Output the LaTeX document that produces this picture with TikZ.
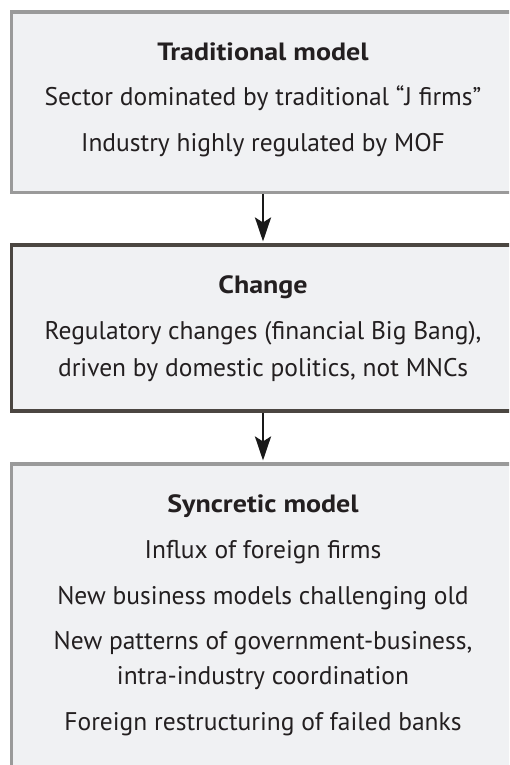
\documentclass[tikz,border=0pt]{standalone}
\usepackage{fontspec}
\setmainfont{PT Sans}
\newfontfamily\titlefont[FakeStretch=1.12]{PT Sans Bold}
\usetikzlibrary{arrows.meta}
\definecolor{boxfill}{HTML}{F0F1F3}
\definecolor{greyline}{HTML}{9A9A9A}
\definecolor{darkline}{HTML}{4B4641}
\definecolor{txt}{HTML}{231F20}
\tikzset{
  panel/.style={draw=greyline, fill=boxfill, line width=3.5pt, inner sep=0pt, minimum width=503pt},
  darkpanel/.style={panel, draw=darkline},
  line/.style={anchor=base, text=txt, inner sep=0pt, font=\fontsize{25.5}{30}\selectfont},
  title/.style={line, font=\fontsize{25}{30}\selectfont\titlefont},
  flow/.style={line width=2.8pt, draw=black!90, -{Stealth[length=24pt,width=16pt,inset=5pt]}, shorten >=1.5pt}
}
\begin{document}
\begin{tikzpicture}[x=1pt,y=-1pt]
\useasboundingbox (0,0) rectangle (509,765);
\clip (0,0) rectangle (509,765);
\node[panel, minimum height=180.3pt] (b1) at (263,102.2) {};
\node[darkpanel, minimum height=166.3pt] (b2) at (263,327.9) {};
\node[panel, minimum height=436.3pt] (b3) at (263,681.9) {};
\draw[flow] (b1.south) -- (b2.north);
\draw[flow] (b2.south) -- (b3.north);
\node[title] (t1) at (263,60.7) {Traditional model};
\node[line] (l11) at (263,106) {Sector dominated by traditional “J firms”};
\node[line] (l12) at (263,151) {Industry highly regulated by MOF};
\node[title] (t2) at (263,293) {Change};
\node[line] (l21) at (263,339) {Regulatory changes (financial Big Bang),};
\node[line] (l22) at (263,376) {driven by domestic politics, not MNCs};
\node[title] (t3) at (263,512) {Syncretic model};
\node[line] (l31) at (263,558) {Influx of foreign firms};
\node[line] (l32) at (263,604) {New business models challenging old};
\node[line] (l33) at (263,649) {New patterns of government-business,};
\node[line] (l34) at (263,684) {intra-industry coordination};
\node[line] (l35) at (263,730) {Foreign restructuring of failed banks};
\end{tikzpicture}
\end{document}
